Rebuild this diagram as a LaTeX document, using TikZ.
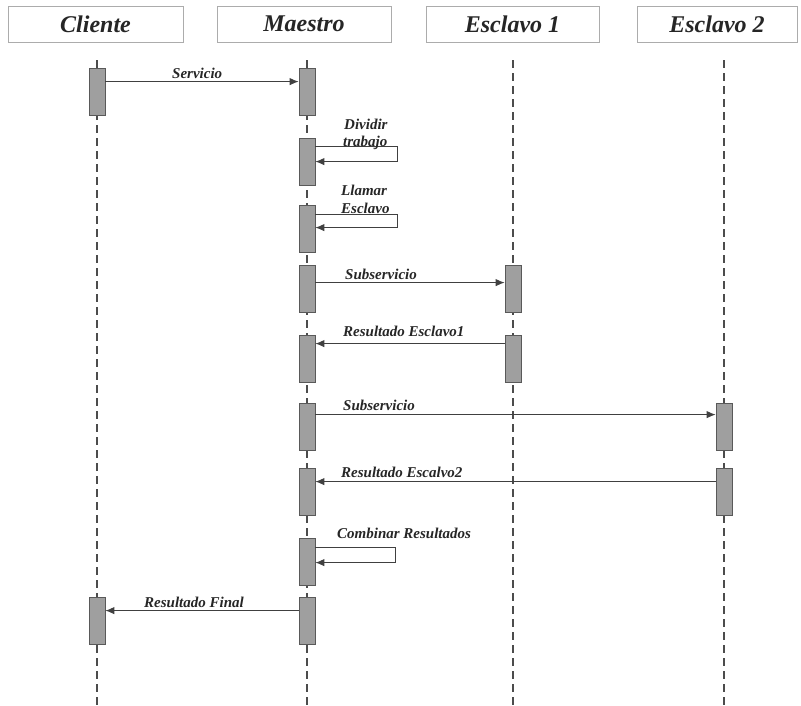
\documentclass[tikz,border=0pt]{standalone}
\usepackage{fontspec}
\setmainfont{Liberation Serif}
\usetikzlibrary{arrows.meta}
\begin{document}
\begin{tikzpicture}[x=1pt,y=-1pt,
  header/.style={draw=gray!65,line width=0.9pt,minimum height=36pt,inner sep=0pt,
    font=\fontsize{24}{27}\selectfont\bfseries\itshape,text=black!85},
  lifeline/.style={draw=black!70,line width=1.3pt,dash pattern=on 8pt off 5pt},
  bar/.style={draw=black!65,fill=gray!75,line width=0.8pt,minimum width=16pt,
    minimum height=47pt,inner sep=0pt},
  msg/.style={draw=black!75,line width=0.9pt,-{Latex[length=9pt,width=7.5pt]}},
  lbl/.style={anchor=west,inner sep=0pt,font=\fontsize{15}{17}\selectfont\bfseries\itshape,
    text=black!85,align=left}]
\useasboundingbox[fill=white] (0,0) rectangle (801,705);

% participant headers
\node[header,minimum width=175pt] (hcli) at (95.5,24) {Cliente};
\node[header,minimum width=174pt] (hmae) at (304,24) {Maestro};
\node[header,minimum width=173pt] (hes1) at (512.5,24) {Esclavo 1};
\node[header,minimum width=160pt] (hes2) at (717,24) {Esclavo 2};

% lifelines
\foreach \n/\x in {cli/97,mae/307,es1/513,es2/724}{
  \coordinate (t\n) at (\x,60);
  \coordinate (b\n) at (\x,705);
  \draw[lifeline] (t\n) -- (b\n);
}

% activation bars
\node[bar] (c1) at (97,91.5) {};
\node[bar] (c2) at (97,620.5) {};
\foreach \i/\t in {1/68,2/138,3/205,4/265,5/335,6/403,7/468,8/538,9/597}{
  \node[bar] (m\i) at (307,\t+23.5) {};
}
\node[bar] (e1a) at (513,288.5) {};
\node[bar] (e1b) at (513,358.5) {};
\node[bar] (e2a) at (724,426.5) {};
\node[bar] (e2b) at (724,491.5) {};

% messages
\draw[msg] ([yshift=-14pt]c1.north east) -- ([yshift=-14pt]m1.north west);
\node[lbl] (l1) at (172,73) {Servicio};

\draw[msg] ([yshift=-9pt]m2.north east) -- ++(82,0) -- ++(0,15) -- ([yshift=-24pt]m2.north east);
\node[lbl] (l2) at (344,124) {Dividir};
\node[lbl] (l2b) at (343,143) {trabajo};

\draw[msg] ([yshift=-10pt]m3.north east) -- ++(82,0) -- ++(0,13) -- ([yshift=-23pt]m3.north east);
\node[lbl] (l3) at (341,190) {Llamar};
\node[lbl] (l3b) at (341,208) {Esclavo};

\draw[msg] ([yshift=-18pt]m4.north east) -- ([yshift=-18pt]e1a.north west);
\node[lbl] (l4) at (345,274) {Subservicio};

\draw[msg] ([yshift=-9pt]e1b.north west) -- ([yshift=-9pt]m5.north east);
\node[lbl] (l5) at (343,331) {Resultado Esclavo1};

\draw[msg] ([yshift=-12pt]m6.north east) -- ([yshift=-12pt]e2a.north west);
\node[lbl] (l6) at (343,405) {Subservicio};

\draw[msg] ([yshift=-14pt]e2b.north west) -- ([yshift=-14pt]m7.north east);
\node[lbl] (l7) at (341,472) {Resultado Escalvo2};

\draw[msg] ([yshift=-10pt]m8.north east) -- ++(80,0) -- ++(0,15) -- ([yshift=-25pt]m8.north east);
\node[lbl] (l8) at (337,533) {Combinar Resultados};

\draw[msg] ([yshift=-14pt]m9.north west) -- ([yshift=-14pt]c2.north east);
\node[lbl] (l9) at (144,602) {Resultado Final};
\end{tikzpicture}
\end{document}
